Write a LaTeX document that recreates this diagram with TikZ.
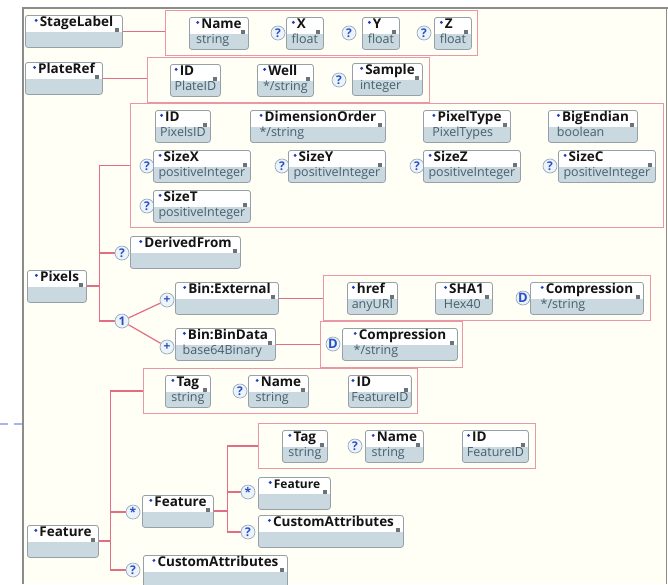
\documentclass[tikz,border=0pt]{standalone}
\usepackage{fontspec}
\setmainfont{Open Sans}
\usepackage{xcolor}
\usepackage{tikz}
\usetikzlibrary{positioning,backgrounds,calc}
\definecolor{cream}{RGB}{255,255,246}
\definecolor{framegrey}{RGB}{140,140,140}
\definecolor{pinkline}{RGB}{226,110,132}
\definecolor{pinkbox}{RGB}{234,150,166}
\definecolor{elemgrey}{RGB}{150,160,168}
\definecolor{typefill}{RGB}{202,216,224}
\definecolor{dotblue}{RGB}{30,60,200}
\definecolor{typetext}{RGB}{70,95,110}
\definecolor{nametext}{RGB}{20,20,20}
\definecolor{occborder}{RGB}{150,170,190}
\definecolor{occfill}{RGB}{236,243,250}
\definecolor{occblue}{RGB}{40,80,200}
\definecolor{sqgrey}{RGB}{110,115,120}
\definecolor{dashblue}{RGB}{170,178,235}
\newcommand\bdot{\tikz[baseline=0pt]\fill[dotblue] (1.6pt,6.5pt) circle[radius=1.6pt];\hspace{2pt}}
\newcommand\nm[1]{\bdot{\fontsize{13.5}{15}\selectfont\bfseries\color{nametext}\strut#1}}
\newcommand\nmref[1]{\bdot{\fontsize{12}{15}\selectfont\bfseries\color{nametext}\strut#1}}
\newcommand\tp[1]{{\color{typetext}\strut#1}}
\tikzset{
  elem/.style={draw=elemgrey, rounded corners=2.5pt, line width=0.8pt, anchor=north west,
    minimum width=#1, minimum height=32pt, inner xsep=3pt, inner ysep=0pt, align=left,
    font=\fontsize{12.5}{15}\selectfont, fill=white,
    path picture={
      \fill[typefill, sharp corners] ([yshift=-1pt]path picture bounding box.west)
        rectangle (path picture bounding box.south east);
      \fill[sqgrey, sharp corners] ([xshift=-7pt,yshift=-0.5pt]path picture bounding box.east)
        rectangle ++(4pt,4pt);
    }},
  grp/.style={draw=pinkbox, line width=1pt, anchor=north west, inner sep=0pt},
  occ/.style={circle, draw=occborder, fill=occfill, line width=0.7pt, minimum size=14pt,
    inner sep=0pt, text=occblue, font=\fontsize{12}{12}\selectfont\bfseries},
  conn/.style={draw=pinkline, line width=1.2pt},
  stub/.style={draw=pinkline, line width=2pt}
}
\begin{document}
\begin{tikzpicture}[x=1pt,y=-1pt]
\useasboundingbox (0,0) rectangle (668,584);

\node[elem=97pt] (stagelabel) at (25,15) {\nm{StageLabel}\\\tp{}};
\node[grp, minimum width=312pt, minimum height=45pt] (stagegrp) at (165,10) {};
\node[elem=59pt] (stname) at (189,17) {\nm{Name}\\\tp{string}};
\node[occ] (stxq) at (278,33) {?};
\node[elem=37pt] (stx) at (286,17) {\nm{X}\\\tp{float}};
\node[occ] (styq) at (349,33) {?};
\node[elem=37pt] (sty) at (362,17) {\nm{Y}\\\tp{float}};
\node[occ] (stzq) at (424,33) {?};
\node[elem=37pt] (stz) at (434,17) {\nm{Z}\\\tp{float}};

\node[elem=77pt] (plateref) at (25,62) {\nm{PlateRef}\\\tp{}};
\node[grp, minimum width=282pt, minimum height=45pt] (plategrp) at (147,57) {};
\node[elem=50pt] (plid) at (170,64) {\nm{ID}\\\tp{PlateID}};
\node[elem=56pt] (plwell) at (257,64) {\nm{Well}\\\tp{*/string}};
\node[occ] (plsampq) at (339,80) {?};
\node[elem=70pt] (plsample) at (352,63) {\nm{Sample}\\\tp{integer}};

\node[elem=59pt] (pixels) at (27,270) {\nm{Pixels}\\\tp{}};
\node[grp, minimum width=533pt, minimum height=124pt] (pixgrp) at (130,103) {};
\node[elem=55pt] (pxid) at (155,110) {\nm{ID}\\\tp{PixelsID}};
\node[elem=135pt] (pxdim) at (250,110) {\nm{DimensionOrder}\\\tp{*/string}};
\node[elem=87pt] (pxtype) at (423,110) {\nm{PixelType}\\\tp{PixelTypes}};
\node[elem=89pt] (pxend) at (548,110) {\nm{BigEndian}\\\tp{boolean}};
\node[occ] (sizexq) at (147,166) {?};
\node[elem=97pt] (sizex) at (153,150) {\nm{SizeX}\\\tp{positiveInteger}};
\node[occ] (sizeyq) at (282,166) {?};
\node[elem=97pt] (sizey) at (288,150) {\nm{SizeY}\\\tp{positiveInteger}};
\node[occ] (sizezq) at (417,166) {?};
\node[elem=97pt] (sizez) at (423,150) {\nm{SizeZ}\\\tp{positiveInteger}};
\node[occ] (sizecq) at (550,166) {?};
\node[elem=97pt] (sizec) at (558,150) {\nm{SizeC}\\\tp{positiveInteger}};
\node[occ] (sizetq) at (147,206) {?};
\node[elem=97pt] (sizet) at (153,190) {\nm{SizeT}\\\tp{positiveInteger}};
\node[occ] (derq) at (122,253) {?};
\node[elem=110pt] (derived) at (130,236) {\nm{DerivedFrom}\\\tp{}};
\node[occ] (choice) at (122,321) {1};
\node[occ] (extplus) at (167,300) {+};
\node[elem=103pt] (binext) at (175,282) {\nm{Bin:External}\\\tp{}};
\node[occ] (dataplus) at (167,347) {+};
\node[elem=100pt] (bindata) at (175,328) {\nm{Bin:BinData}\\\tp{base64Binary}};

\node[grp, minimum width=327pt, minimum height=45pt] (extgrp) at (323,275) {};
\node[elem=50pt] (href) at (347,282) {\nm{href}\\\tp{anyURI}};
\node[elem=57pt] (sha1) at (435,282) {\nm{SHA1}\\\tp{Hex40}};
\node[occ, font=\fontsize{13}{13}\selectfont\bfseries] (extcompd) at (523,298) {D};
\node[elem=113pt] (extcomp) at (530,282) {\nm{Compression}\\\tp{*/string}};
\node[grp, minimum width=142pt, minimum height=46pt] (datagrp) at (320,321) {};
\node[occ, font=\fontsize{13}{13}\selectfont\bfseries] (datacompd) at (333,344) {D};
\node[elem=115pt] (datacomp) at (342,328) {\nm{Compression}\\\tp{*/string}};

\node[elem=71pt] (feature) at (27,525) {\nm{Feature}\\\tp{}};
\node[grp, minimum width=274pt, minimum height=45pt] (featgrp) at (143,368) {};
\node[elem=45pt] (ftag) at (165,375) {\nm{Tag}\\\tp{string}};
\node[occ] (fnameq) at (240,391) {?};
\node[elem=60pt] (fname) at (248,375) {\nm{Name}\\\tp{string}};
\node[elem=62pt] (fid) at (348,375) {\nm{ID}\\\tp{FeatureID}};
\node[occ] (fstar) at (133,512) {*};
\node[elem=71pt] (featin) at (142,495) {\nm{Feature}\\\tp{}};
\node[occ] (fcustq) at (133,570) {?};
\node[elem=144pt] (fcust) at (143,555) {\nm{CustomAttributes}\\\tp{}};

\node[grp, minimum width=277pt, minimum height=45pt] (featgrp2) at (258,423) {};
\node[elem=45pt] (ftag2) at (282,430) {\nm{Tag}\\\tp{string}};
\node[occ] (fname2q) at (355,446) {?};
\node[elem=58pt] (fname2) at (365,430) {\nm{Name}\\\tp{string}};
\node[elem=66pt] (fid2) at (462,430) {\nm{ID}\\\tp{FeatureID}};
\node[occ] (fstar2) at (248,492) {*};
\node[elem=72pt] (featref) at (258,477) {\nmref{Feature}\\\tp{}};
\node[occ] (fcust2q) at (248,532) {?};
\node[elem=145pt] (fcust2) at (258,515) {\nm{CustomAttributes}\\\tp{}};

\coordinate[right=13pt of pixels.east] (pixj);
\coordinate[right=12pt of feature.east] (featj);
\coordinate[right=14pt of featin.east] (featinj);

\begin{scope}[on background layer]
\fill[cream] (23,8) rectangle (668,584);
\draw[framegrey, line width=2pt] (23,584) -- (23,8) -- (668,8);
\draw[framegrey, line width=1.5pt] (666.5,8) -- (666.5,584);
\draw[dashblue, line width=1.2pt, dash pattern=on 8pt off 6pt] (0,424) -- (22,424);

\draw[conn] (stagelabel.east) -- (stagelabel.east -| stagegrp.west);
\draw[conn] (plateref.east) -- (plateref.east -| plategrp.west);
\draw[stub] (pixels.east) -- (pixj);
\draw[conn] (pixj) |- (pixgrp.west);
\draw[conn] (pixj) |- (derq.west);
\draw[conn] (pixj) |- (choice.west);
\draw[conn] (choice) -- (extplus);
\draw[conn] (choice) -- (dataplus);
\draw[conn] (binext.east) -- (binext.east -| extgrp.west);
\draw[conn] (bindata.east) -- (bindata.east -| datagrp.west);
\draw[stub] (feature.east) -- (featj);
\draw[conn] (featj) |- (featgrp.west);
\draw[conn] (featj) |- (fstar.west);
\draw[conn] (featj) |- (fcustq.west);
\draw[stub] (featin.east) -- (featinj);
\draw[conn] (featinj) |- (featgrp2.west);
\draw[conn] (featinj) |- (fstar2.west);
\draw[conn] (featinj) |- (fcust2q.west);
\end{scope}
\end{tikzpicture}
\end{document}
